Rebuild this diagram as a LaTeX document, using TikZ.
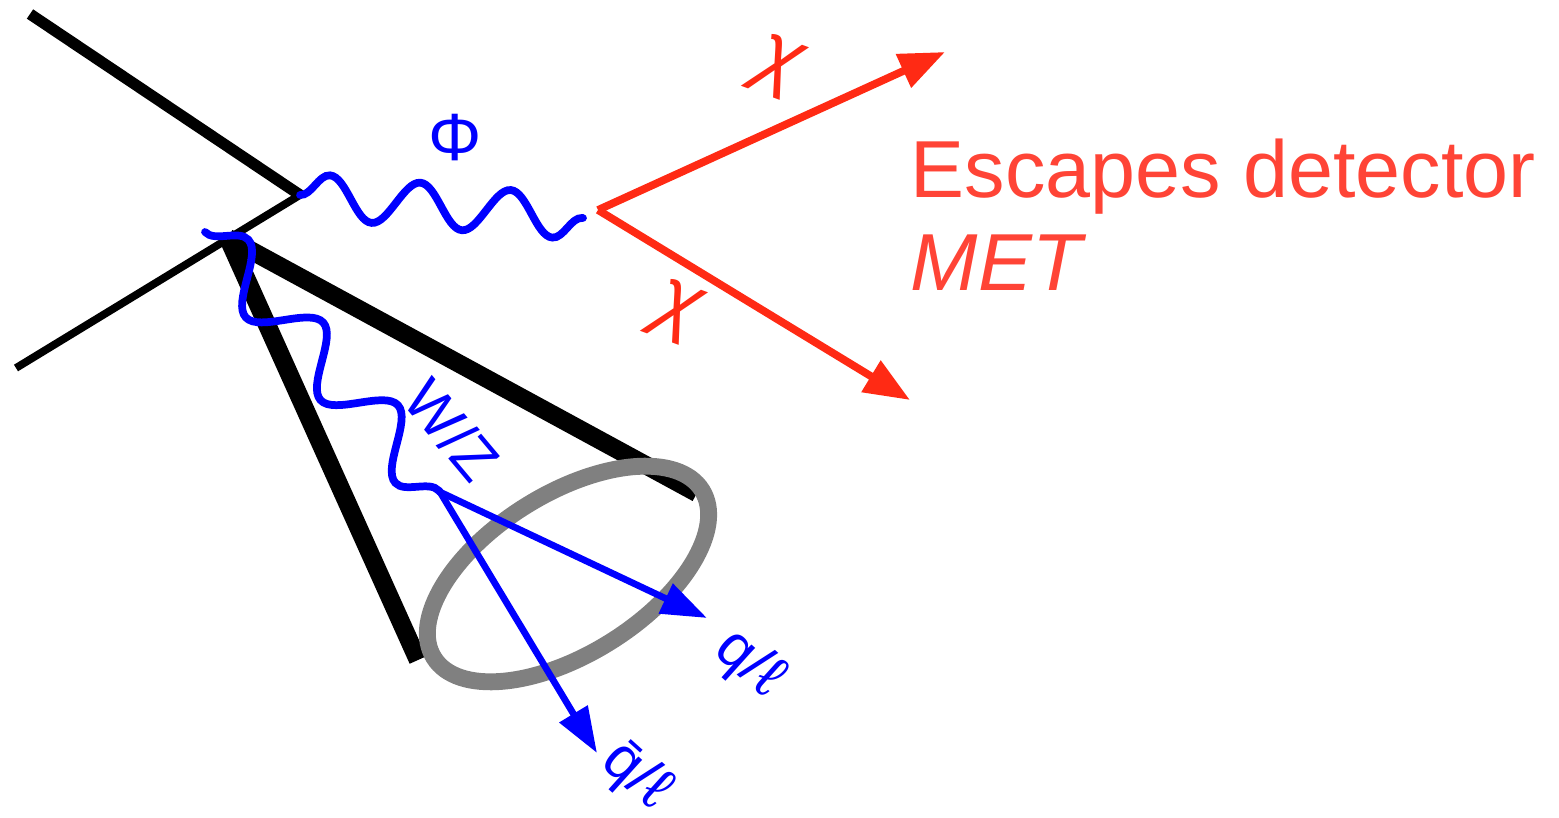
\documentclass[tikz,border=0pt]{standalone}
\usepackage{fontspec}
\setmainfont{Liberation Sans}
\usetikzlibrary{arrows.meta, decorations.pathmorphing}
\definecolor{bosblue}{HTML}{0000FF}
\definecolor{dmred}{HTML}{FF2A14}
\definecolor{dmtext}{HTML}{FF4436}

\begin{document}
\begin{tikzpicture}[
      x=0.01cm, y=-0.01cm,
      every node/.style={inner sep=0pt, font=\fontsize{17}{19}\selectfont},
      beamline/.style={draw=black, line width=2.2pt},
      conewall/.style={draw=black, line width=5.2pt},
      boson/.style={draw=bosblue, line width=2.2pt, line cap=round, decorate,
        decoration={snake, segment length=0.906cm, amplitude=0.22cm}},
      decayarrow/.style={draw=bosblue, line width=1.9pt, -{Triangle[length=13pt, width=9pt]}},
      dmarrow/.style={draw=dmred, line width=2.2pt, -{Triangle[length=13pt, width=10pt]}},
      bluelabel/.style={text=bosblue},
      redlabel/.style={text=dmred, font=\fontsize{23}{25}\selectfont\itshape},
    ]
    \useasboundingbox (0,0) rectangle (1559,818);
    % vertices
    \coordinate (inA) at (30,14);
    \coordinate (inB) at (16,368);
    \coordinate (prod) at (300,195);
    \coordinate (apex) at (228,238);
    \coordinate (phiend) at (583,218);
    \coordinate (wzstart) at (205,232);
    \coordinate (dmvtx) at (598,210);
    \coordinate (wzvtx) at (440,492);
    \coordinate (coneR) at (697,493);
    \coordinate (coneL) at (418,660);
    \coordinate (chiA) at (945,52);
    \coordinate (chiB) at (910,400);
    \coordinate (qend) at (707,618);
    \coordinate (qbend) at (597,753);
    % incoming lines
    \draw[beamline, line width=3.2pt] (inA) -- (prod);
    \draw[beamline] (inB) -- (prod);
    % jet cone
    \draw[conewall] (apex) -- (coneR);
    \draw[conewall] (apex) -- (coneL);
    \draw[draw=gray, line width=4.8pt, rotate around={32:(568,574)}] (568,574) ellipse [x radius=1.58cm, y radius=0.8cm];
    % bosons
    \draw[boson] (prod) -- (phiend);
    \draw[boson, decoration={snake, segment length=1.115cm, amplitude=0.27cm}] (wzstart) -- (wzvtx);
    % decays
    \draw[decayarrow] (wzvtx) -- (qend);
    \draw[decayarrow] (wzvtx) -- (qbend);
    \draw[dmarrow] (dmvtx) -- (chiA);
    \draw[dmarrow] (dmvtx) -- (chiB);
    % labels
    \node[bluelabel, font=\fontsize{19}{21}\selectfont] (phi) at (455,138) {Φ};
    \node[bluelabel, rotate=-50] (wz) at (452,430) {W/Z};
    \node[bluelabel, rotate=-42] (ql) at (749,664) {q/ℓ};
    \node[bluelabel, rotate=-42] (qbl) at (636,776) {\=q/ℓ};
    \node[redlabel, rotate=-20] (chi1) at (778,67) {χ};
    \node[redlabel, rotate=-20] (chi2) at (677,312) {χ};
    \node[text=dmtext, font=\fontsize{23}{26}\selectfont, anchor=base west] (esc) at (910,197) {Escapes detector};
    \node[text=dmtext, font=\fontsize{23}{26}\selectfont\itshape, anchor=base west] (met) at (910,290) {MET};
  \end{tikzpicture}
\end{document}
